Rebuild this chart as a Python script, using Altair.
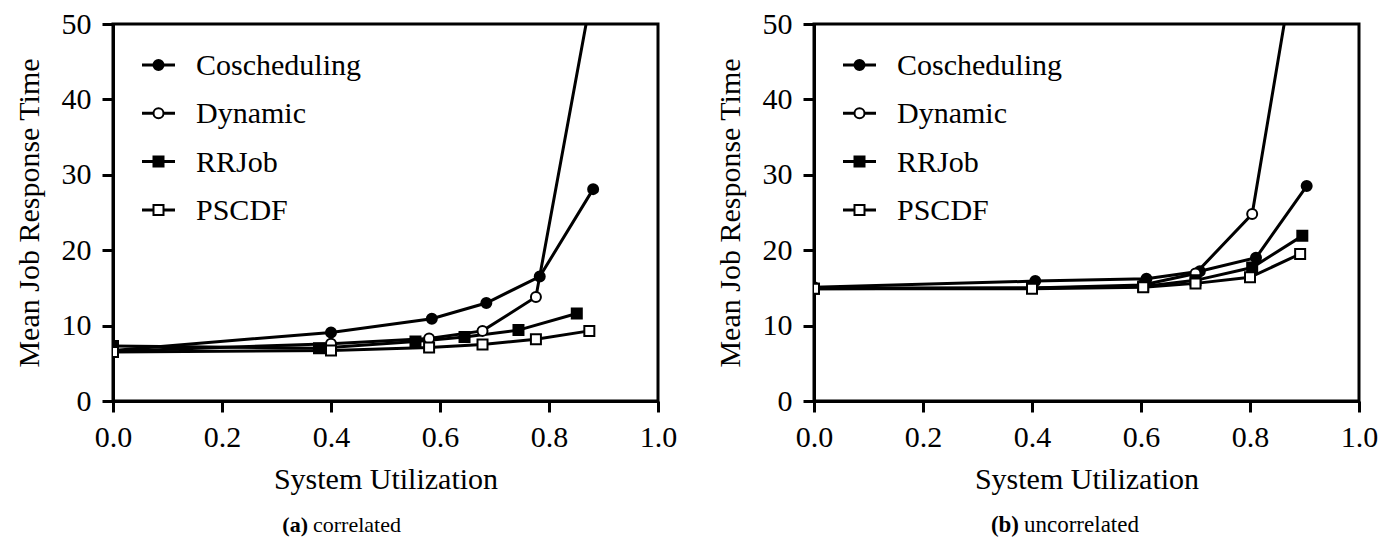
import altair as alt
import pandas as pd

FONT = "Liberation Serif"
FS = 30

series_names = ["Coscheduling", "Dynamic", "RRJob", "PSCDF"]
marker_shapes = ["circle", "circle", "square", "square"]
marker_fills = ["black", "white", "black", "white"]

x_ticks = [0.0, 0.2, 0.4, 0.6, 0.8, 1.0]
y_ticks = [0, 10, 20, 30, 40, 50]

# (a) correlated
cosched_a_x = [0.0, 0.40, 0.585, 0.685, 0.783, 0.881]
cosched_a_y = [6.7, 9.1, 10.9, 13.0, 16.5, 28.1]
dynamic_a_x = [0.0, 0.40, 0.58, 0.678, 0.776, 0.88]
dynamic_a_y = [6.6, 7.6, 8.3, 9.3, 13.8, 54.7]
rrjob_a_x = [0.0, 0.378, 0.555, 0.645, 0.744, 0.851]
rrjob_a_y = [7.3, 7.0, 7.9, 8.5, 9.4, 11.6]
pscdf_a_x = [0.0, 0.40, 0.58, 0.678, 0.776, 0.874]
pscdf_a_y = [6.5, 6.7, 7.1, 7.5, 8.2, 9.3]

# (b) uncorrelated
cosched_b_x = [0.0, 0.406, 0.61, 0.708, 0.811, 0.904]
cosched_b_y = [15.1, 15.9, 16.2, 17.2, 19.0, 28.5]
dynamic_b_x = [0.0, 0.40, 0.603, 0.70, 0.804, 0.90]
dynamic_b_y = [15.0, 15.0, 15.4, 16.9, 24.8, 66.0]
rrjob_b_x = [0.0, 0.40, 0.604, 0.70, 0.804, 0.896]
rrjob_b_y = [14.9, 15.0, 15.2, 16.0, 17.7, 21.9]
pscdf_b_x = [0.0, 0.40, 0.604, 0.70, 0.80, 0.892]
pscdf_b_y = [14.9, 14.9, 15.1, 15.6, 16.4, 19.5]

captions = [("(a)", "correlated"), ("(b)", "uncorrelated")]

W, H = 545, 377


def build_df(xs_list, ys_list):
    rows = []
    for name, xs, ys in zip(series_names, xs_list, ys_list):
        for xv, yv in zip(xs, ys):
            rows.append({"series": name, "util": xv, "resp": yv})
    return pd.DataFrame(rows)


df_a = build_df([cosched_a_x, dynamic_a_x, rrjob_a_x, pscdf_a_x],
                [cosched_a_y, dynamic_a_y, rrjob_a_y, pscdf_a_y])
df_b = build_df([cosched_b_x, dynamic_b_x, rrjob_b_x, pscdf_b_x],
                [cosched_b_y, dynamic_b_y, rrjob_b_y, pscdf_b_y])


def make_panel(df, letter, word, split_x, cap_fs):
    xenc = alt.X("util:Q", scale=alt.Scale(domain=[0, 1], nice=False, zero=False),
                 axis=alt.Axis(values=x_ticks, format=".1f", title="System Utilization"))
    yenc = alt.Y("resp:Q", scale=alt.Scale(domain=[0, 50], nice=False),
                 axis=alt.Axis(values=y_ticks, title="Mean Job Response Time"))
    lines = alt.Chart(df).mark_line(color="black", strokeWidth=3, clip=True).encode(
        x=xenc, y=yenc, detail="series:N", order="util:Q")
    pts = alt.Chart(df).mark_point(filled=True, stroke="black", strokeWidth=2, opacity=1,
                                   size=100, clip=True).encode(
        x=xenc, y=yenc,
        shape=alt.Shape("series:N", scale=alt.Scale(domain=series_names, range=marker_shapes), legend=None),
        fill=alt.Fill("series:N", scale=alt.Scale(domain=series_names, range=marker_fills), legend=None))
    layers = [lines, pts]
    for i, name in enumerate(series_names):
        one = pd.DataFrame({"series": [name]})
        yy = 41 + 48.3 * i
        layers.append(alt.Chart(one).mark_rule(color="black", strokeWidth=3).encode(
            x=alt.value(29), x2=alt.value(62), y=alt.value(yy)))
        layers.append(alt.Chart(one).mark_point(filled=True, shape=marker_shapes[i], fill=marker_fills[i],
                                                stroke="black", strokeWidth=2, size=100, opacity=1).encode(
            x=alt.value(45.5), y=alt.value(yy)))
        layers.append(alt.Chart(one).mark_text(align="left", baseline="middle", font=FONT, fontSize=FS,
                                               color="black").encode(
            x=alt.value(83), y=alt.value(yy + 1), text="series:N"))
    cap = pd.DataFrame({"k": [0]})
    layers.append(alt.Chart(cap).mark_text(align="right", baseline="middle", font=FONT, fontSize=cap_fs,
                                           fontWeight="bold", color="black").encode(
        x=alt.value(split_x), y=alt.value(H + 124), text=alt.value(letter)))
    layers.append(alt.Chart(cap).mark_text(align="left", baseline="middle", font=FONT, fontSize=cap_fs,
                                           color="black").encode(
        x=alt.value(split_x + 5), y=alt.value(H + 124), text=alt.value(word)))
    return alt.layer(*layers).properties(width=W, height=H)


left = make_panel(df_a, captions[0][0], captions[0][1], 195, 22)
right = make_panel(df_b, captions[1][0], captions[1][1], 205, 23)

chart = alt.hconcat(left, right, spacing=34).properties(
    padding={"left": 12, "top": 7, "right": 5, "bottom": 5}
).configure_view(
    stroke="black", strokeWidth=3
).configure_axis(
    domainColor="black", domainWidth=3, tickColor="black", tickWidth=3, tickSize=11,
    grid=False, labelFont=FONT, labelFontSize=FS, labelColor="black", labelPadding=10,
    titleFont=FONT, titleFontSize=FS, titleFontWeight="normal", titleColor="black",
    labelFlush=False, labelOverlap=False
).configure_axisX(titlePadding=12).configure_axisY(titlePadding=17, labelPadding=11)

chart.save("out.html", embed_options={"renderer": "svg", "actions": False})
